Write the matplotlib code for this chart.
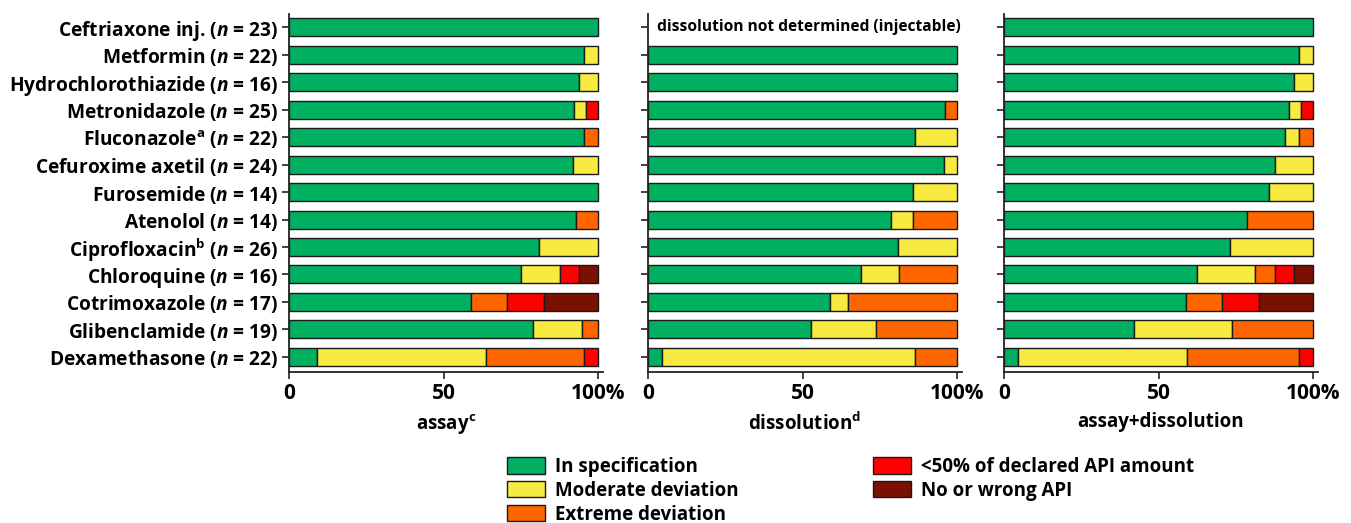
import matplotlib
matplotlib.use("Agg")
import matplotlib.pyplot as plt
from matplotlib.patches import Patch
import numpy as np

plt.rcParams['font.family'] = ['Open Sans', 'DejaVu Sans']
plt.rcParams['font.weight'] = 'bold'
plt.rcParams['mathtext.fontset'] = 'custom'
plt.rcParams['mathtext.it'] = 'Open Sans:italic:bold'
plt.rcParams['mathtext.rm'] = 'Open Sans:bold'

drugs = ["Ceftriaxone inj.", "Metformin", "Hydrochlorothiazide", "Metronidazole",
         "Fluconazole$^{\\mathrm{a}}$", "Cefuroxime axetil", "Furosemide", "Atenolol",
         "Ciprofloxacin$^{\\mathrm{b}}$", "Chloroquine", "Cotrimoxazole", "Glibenclamide",
         "Dexamethasone"]
n_samples = [23, 22, 16, 25, 22, 24, 14, 14, 26, 16, 17, 19, 22]

categories = ["In specification", "Moderate deviation", "Extreme deviation",
              "<50% of declared API amount", "No or wrong API"]
colors = ["#00B060", "#F7EB42", "#FF6600", "#FF0000", "#7A1000"]

# percentages per drug: [in spec, moderate, extreme, <50%, no/wrong API]
assay = [
    [100.0, 0.0, 0.0, 0.0, 0.0],
    [95.45, 4.55, 0.0, 0.0, 0.0],
    [93.75, 6.25, 0.0, 0.0, 0.0],
    [92.0, 4.0, 0.0, 4.0, 0.0],
    [95.45, 0.0, 4.55, 0.0, 0.0],
    [91.67, 8.33, 0.0, 0.0, 0.0],
    [100.0, 0.0, 0.0, 0.0, 0.0],
    [92.86, 0.0, 7.14, 0.0, 0.0],
    [80.77, 19.23, 0.0, 0.0, 0.0],
    [75.0, 12.5, 0.0, 6.25, 6.25],
    [58.82, 0.0, 11.76, 11.76, 17.65],
    [78.95, 15.79, 5.26, 0.0, 0.0],
    [9.09, 54.55, 31.82, 4.55, 0.0],
]
dissolution = [
    None,
    [100.0, 0.0, 0.0, 0.0, 0.0],
    [100.0, 0.0, 0.0, 0.0, 0.0],
    [96.0, 0.0, 4.0, 0.0, 0.0],
    [86.36, 13.64, 0.0, 0.0, 0.0],
    [95.83, 4.17, 0.0, 0.0, 0.0],
    [85.71, 14.29, 0.0, 0.0, 0.0],
    [78.57, 7.14, 14.29, 0.0, 0.0],
    [80.77, 19.23, 0.0, 0.0, 0.0],
    [68.75, 12.5, 18.75, 0.0, 0.0],
    [58.82, 5.88, 35.29, 0.0, 0.0],
    [52.63, 21.05, 26.32, 0.0, 0.0],
    [4.55, 81.82, 13.64, 0.0, 0.0],
]
combined = [
    [100.0, 0.0, 0.0, 0.0, 0.0],
    [95.45, 4.55, 0.0, 0.0, 0.0],
    [93.75, 6.25, 0.0, 0.0, 0.0],
    [92.0, 4.0, 0.0, 4.0, 0.0],
    [90.91, 4.55, 4.55, 0.0, 0.0],
    [87.5, 12.5, 0.0, 0.0, 0.0],
    [85.71, 14.29, 0.0, 0.0, 0.0],
    [78.57, 0.0, 21.43, 0.0, 0.0],
    [73.08, 26.92, 0.0, 0.0, 0.0],
    [62.5, 18.75, 6.25, 6.25, 6.25],
    [58.82, 0.0, 11.76, 11.76, 17.65],
    [42.11, 31.58, 26.32, 0.0, 0.0],
    [4.55, 54.55, 36.36, 4.55, 0.0],
]
panel_titles = ["assay$^{\\mathrm{c}}$", "dissolution$^{\\mathrm{d}}$", "assay+dissolution"]
xticks = [0, 50, 100]
xticklabels = ["0", "50", "100%"]

W, H = 1351, 523
fig = plt.figure(figsize=(W / 100, H / 100), dpi=100)

lefts = [289, 648, 1004]
ax_w = 314
top_px, bot_px = 14, 372
ylabels = [f"{d} ($n$ = {n})" for d, n in zip(drugs, n_samples)]

for pi, (data, title) in enumerate(zip([assay, dissolution, combined], panel_titles)):
    ax = fig.add_axes([lefts[pi] / W, 1 - bot_px / H, ax_w / W, (bot_px - top_px) / H])
    y = np.arange(len(drugs))
    for ri, row in enumerate(data):
        if row is None:
            continue
        left = 0.0
        for ci, v in enumerate(row):
            if v > 0:
                ax.barh(ri, v, left=left, height=0.655, color=colors[ci],
                        edgecolor="#1a1a1a", linewidth=1.0)
            left += v
    if pi == 1:
        ax.text(3, 0, "dissolution not determined (injectable)", va="center",
                ha="left", fontsize=11.2, fontweight="bold")
    ax.set_xlim(0, 101.5)
    ax.set_ylim(12.55, -0.48)
    ax.set_yticks(y)
    if pi == 0:
        ax.set_yticklabels(ylabels, fontsize=13.8, fontweight="bold")
    else:
        ax.set_yticklabels([])
    ax.set_xticks(xticks)
    ax.set_xticklabels(xticklabels, fontsize=15, fontweight="bold")
    ax.set_xlabel(title, fontsize=13.5, fontweight="bold", labelpad=6)
    for s in ["top", "right"]:
        ax.spines[s].set_visible(False)
    for s in ["left", "bottom"]:
        ax.spines[s].set_linewidth(1.3)
        ax.spines[s].set_color("#222222")
    ax.tick_params(axis="both", length=5, width=1.2, color="#222222", pad=3)

handles = [Patch(facecolor=c, edgecolor="#1a1a1a", linewidth=1.0) for c in colors]
fig.legend(handles, categories, ncol=2, loc="upper left",
           bbox_to_anchor=(507 / W, 1 - 457 / H), frameon=False,
           handlelength=2.0, handleheight=0.95, handletextpad=0.55,
           labelspacing=0.2, columnspacing=7.2, borderpad=0, borderaxespad=0,
           prop={"weight": "bold", "size": 13.5})

fig.savefig("out.png", dpi=100)
